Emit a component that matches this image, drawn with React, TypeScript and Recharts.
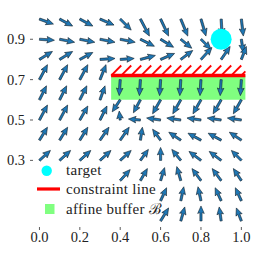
import React from 'react';
import { ScatterChart, Scatter, XAxis, YAxis, ReferenceLine, ReferenceArea, Legend } from 'recharts';

// grid of the vector field
const gridX = [0.0, 0.1, 0.2, 0.3, 0.4, 0.5, 0.6, 0.7, 0.8, 0.9, 1.0];
const gridY = [1.0, 0.9, 0.8, 0.7, 0.6, 0.5, 0.4, 0.3, 0.2, 0.1, 0.0];

// field components (rows follow gridY, columns follow gridX); null = not drawn
const fieldU: (number | null)[][] = [
  [14, 13, 13, 14, 11, 9, 8, 7, 5, 1, 2],
  [15, 15, 15, 15, 15, 14, 13, 11, 10, null, 2],
  [13, 13, 13, 15, 14, 15, 14, 12, 11, 9, 5],
  [8, 8, 8, 6, -1, -1, -1, -1, -1, -1, -1],
  [7, 7, 7, 5, -8, -7, -8, -8, -8, -8, -8],
  [8, 8, 8, 7, -1, -12, -14, -14, -14, -14, -14],
  [8, 8, 8, 9, 9, 2, -8, -12, -13, -13, -12],
  [11, 11, 11, 11, 11, 8, 0, -9, -12, -12, -10],
  [null, null, null, null, 10, 7, 4, -4, -9, -9, -8],
  [null, null, null, null, null, null, 6, 3, -3, -6, -6],
  [null, null, null, null, null, null, 8, 4, 0, -2, -5],
];
const fieldV: (number | null)[][] = [
  [-5, -7, -7, -6, -11, -17, -17, -17, -17, -17, -17],
  [-1, -3, -3, -3, -3, -7, -8, -9, -10, null, -13],
  [8, 8, 7, 1, 1, 4, 6, 9, 12, 13, 13],
  [15, 15, 15, 15, -16, -16, -16, -16, -16, -16, -16],
  [14, 14, 14, 14, -12, -13, -14, -14, -14, -14, -14],
  [15, 15, 14, 14, 9, 1, 2, 2, 2, 2, 2],
  [13, 13, 13, 13, 13, 13, 11, 8, 7, 7, 8],
  [10, 10, 10, 10, 10, 11, 13, 11, 9, 9, 10],
  [null, null, null, null, 11, 12, 13, 14, 12, 12, 12],
  [null, null, null, null, null, null, 13, 14, 14, 13, 13],
  [null, null, null, null, null, null, 13, 14, 15, 14, 13],
];
const QUIVER_SCALE = 202;

const target = [{ x: 0.9, y: 0.9 }];
const constraintY = 0.72;
const constraintX = [0.355, 1.02];
const bufferY = [0.6, 0.72];
const hatchTop = 0.77;

const xTicks = [0.0, 0.2, 0.4, 0.6, 0.8, 1.0];
const yTicks = [0.3, 0.5, 0.7, 0.9];

const legendLabels = ['target', 'constraint line', 'affine buffer ℬ'];
const legendColors = ['#00FFFF', '#FF0000', '#80FF80'];

const arrows: { x: number; y: number; x2: number; y2: number; key: string }[] = [];
gridY.forEach((y, r) => {
  gridX.forEach((x, c) => {
    const u = fieldU[r][c];
    const v = fieldV[r][c];
    if (u === null || v === null) return;
    arrows.push({ x, y, x2: x + u / QUIVER_SCALE, y2: y + v / QUIVER_SCALE, key: `${r}-${c}` });
  });
});

const ArrowShape = (props: any) => {
  const { x1, y1, x2, y2 } = props;
  const dx = x2 - x1;
  const dy = y2 - y1;
  const L = Math.hypot(dx, dy);
  if (!isFinite(L) || L === 0) return <g />;
  const ang = (Math.atan2(dy, dx) * 180) / Math.PI;
  let w = 2.2, hl = 7.5, hal = 6.6, hw = 6.6;
  if (L < hl) {
    const s = L / hl;
    w *= s; hl *= s; hal *= s; hw *= s;
  }
  const pts = [
    [0, -w / 2], [L - hal, -w / 2], [L - hl, -hw / 2], [L, 0],
    [L - hl, hw / 2], [L - hal, w / 2], [0, w / 2],
  ].map((p) => p.join(',')).join(' ');
  return (
    <polygon
      points={pts}
      transform={`translate(${x1},${y1}) rotate(${ang})`}
      fill="#1f77b4"
      stroke="#0d1b26"
      strokeWidth={0.55}
    />
  );
};

const HatchShape = (props: any) => {
  const { x, y, width, height } = props;
  const lines = [];
  for (let s = x; s < x + width; s += 10) {
    const ex = Math.min(s + height, x + width);
    const ey = y + height - (ex - s);
    lines.push(<line key={s} x1={s} y1={y + height} x2={ex} y2={ey} stroke="#FF0000" strokeWidth={1.8} />);
  }
  return <g>{lines}</g>;
};

const TargetShape = (props: any) => <circle cx={props.cx} cy={props.cy} r={10.5} fill="#00FFFF" />;

const LegendBox = () => {
  const txt = { fontFamily: 'Liberation Serif', fontSize: 15, letterSpacing: 0.3, fill: '#222' } as const;
  return (
    <svg width={130} height={62}>
      <circle cx={13.7} cy={10.7} r={5.2} fill={legendColors[0]} />
      <line x1={4} y1={29} x2={27} y2={29} stroke={legendColors[1]} strokeWidth={3.2} />
      <rect x={12} y={44} width={9.5} height={10} fill={legendColors[2]} />
      <text x={33} y={14.5} {...txt}>{legendLabels[0]}</text>
      <text x={33} y={34} {...txt}>{legendLabels[1]}</text>
      <text x={33} y={54} {...txt}>{legendLabels[2]}</text>
    </svg>
  );
};

const XTick = (p: any) => (
  <text x={p.x} y={p.y} dy="0.71em" textAnchor="middle" fontFamily="Liberation Serif" fontSize={14.5} fill="#222">
    {Number(p.payload.value).toFixed(1)}
  </text>
);
const YTick = (p: any) => (
  <text x={p.x} y={p.y} dy="0.34em" textAnchor="end" fontFamily="Liberation Serif" fontSize={14.5} fill="#222">
    {Number(p.payload.value).toFixed(1)}
  </text>
);

export default function App() {
  return (
    <div style={{ position: 'absolute', left: 0, top: 0 }}>
      <ScatterChart width={261} height={253} margin={{ top: 11, right: 14, bottom: 0, left: 3 }}>
        <XAxis
          type="number"
          dataKey="x"
          domain={[-0.032, 1.028]}
          ticks={xTicks}
          axisLine={false}
          tickLine={{ stroke: '#333', strokeWidth: 0.8 }}
          tickSize={3}
          tickMargin={2}
          height={26}
          tick={XTick}
          interval={0}
        />
        <YAxis
          type="number"
          dataKey="y"
          domain={[-0.03, 1.04]}
          ticks={yTicks}
          axisLine={false}
          tickLine={{ stroke: '#333', strokeWidth: 0.8 }}
          tickSize={3}
          tickMargin={5}
          width={30}
          tick={YTick}
          interval={0}
        />
        <ReferenceArea
          x1={constraintX[0]}
          x2={constraintX[1]}
          y1={bufferY[0]}
          y2={bufferY[1]}
          fill="#80FF80"
          fillOpacity={1}
          stroke="none"
          ifOverflow="visible"
        />
        <ReferenceArea
          x1={constraintX[0]}
          x2={constraintX[1]}
          y1={constraintY}
          y2={hatchTop}
          ifOverflow="visible"
          shape={<HatchShape />}
        />
        <ReferenceLine
          segment={[{ x: constraintX[0], y: constraintY }, { x: constraintX[1], y: constraintY }]}
          stroke="#FF0000"
          strokeWidth={3.5}
          ifOverflow="visible"
        />
        {arrows.map((a) => (
          <ReferenceLine
            key={a.key}
            segment={[{ x: a.x, y: a.y }, { x: a.x2, y: a.y2 }]}
            ifOverflow="visible"
            shape={ArrowShape}
          />
        ))}
        <Scatter data={target} isAnimationActive={false} shape={TargetShape} />
        <Legend
          layout="vertical"
          align="center"
          verticalAlign="middle"
          wrapperStyle={{ left: 33, top: 160, width: 130, height: 62 }}
          content={() => <LegendBox />}
        />
      </ScatterChart>
    </div>
  );
}
